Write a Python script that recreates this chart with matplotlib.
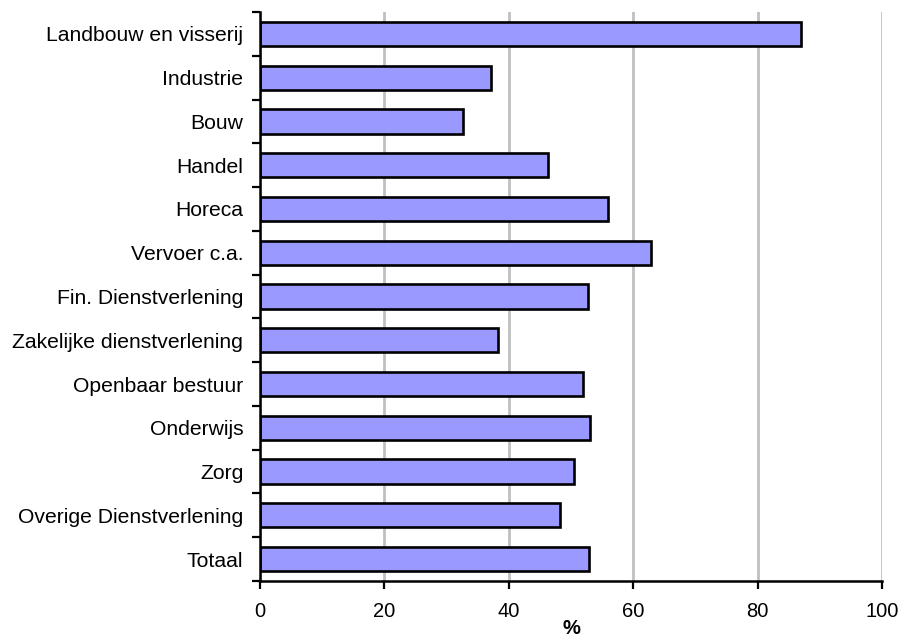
import matplotlib
matplotlib.use("Agg")
import matplotlib.pyplot as plt

categories = ["Landbouw en visserij", "Industrie", "Bouw", "Handel", "Horeca",
              "Vervoer c.a.", "Fin. Dienstverlening", "Zakelijke dienstverlening",
              "Openbaar bestuur", "Onderwijs", "Zorg", "Overige Dienstverlening", "Totaal"]
values = [86.9, 37.1, 32.7, 46.3, 55.9, 62.8, 52.8, 38.3, 51.9, 53.1, 50.5, 48.3, 52.9]
xticks = [0, 20, 40, 60, 80, 100]

plt.rcParams['font.family'] = ['Liberation Sans', 'DejaVu Sans']

fig = plt.figure(figsize=(9.01, 6.42), dpi=100)
ax = fig.add_axes([260/901, 1-581/642, (882-260)/901, (581-12)/642])

n = len(categories)
pos = list(range(n))
ax.barh(pos, values, height=0.555, color='#9999FF', edgecolor='black', linewidth=1.9, zorder=3)
ax.set_ylim(n - 0.5, -0.5)
ax.set_xlim(0, 100)

ax.set_yticks([p for p in pos])
ax.set_yticklabels(categories, fontsize=15.2)
ax.set_yticks([i - 0.5 for i in range(n + 1)], minor=True)
ax.tick_params(axis='y', which='major', length=0, pad=12)
ax.tick_params(axis='y', which='minor', length=6, width=1.6, direction='out')

ax.set_xticks(xticks)
ax.set_xticklabels([str(v) for v in xticks], fontsize=14.5)
ax.tick_params(axis='x', length=6, width=1.6, direction='out', pad=9)
ax.set_xlabel('%', fontsize=14.5, fontweight='bold', labelpad=-1)

ax.grid(axis='x', color='#c0c0c0', linewidth=2, zorder=0)
ax.set_axisbelow(True)
for s in ['top', 'right']:
    ax.spines[s].set_visible(False)
for s in ['left', 'bottom']:
    ax.spines[s].set_linewidth(1.8)
    ax.spines[s].set_zorder(4)

fig.savefig('out.png', dpi=100)
